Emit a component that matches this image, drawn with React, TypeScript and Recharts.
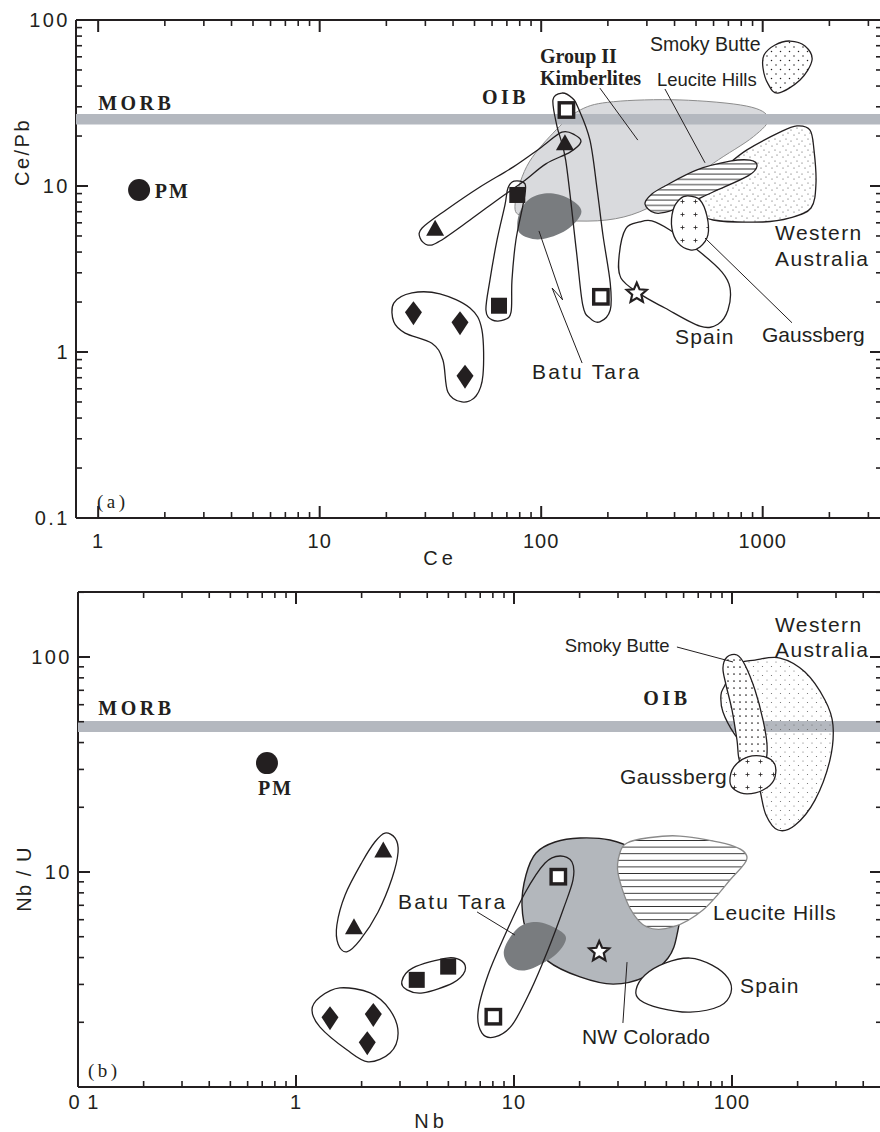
import React from 'react';
import { ScatterChart, Scatter, XAxis, YAxis } from 'recharts';

type XY = [number, number];
type Lbl = [string, number, number];
type Pt = { x: number; y: number };

const INK = '#231f20';
const BAND = '#b4b8bf';
const SANS = '"Liberation Sans", Arial, Helvetica, sans-serif';
const SERIF = '"Liberation Serif", "Times New Roman", Times, serif';
const CHART_W = 884;

// ===================== Panel (a): Ce vs Ce/Pb =====================
const ceDomain: XY = [0.7942, 3456];
const cePbDomain: XY = [0.1, 100];
const ceMajor = [1, 10, 100, 1000];
const ceTicks = [1, 2, 3, 4, 5, 6, 7, 8, 9, 10, 20, 30, 40, 50, 60, 70, 80, 90, 100, 200, 300, 400, 500, 600, 700, 800, 900, 1000, 2000, 3000];
const cePbMajor = [0.1, 1, 10, 100];
const cePbTicks = [0.1, 0.2, 0.3, 0.4, 0.5, 0.6, 0.7, 0.8, 0.9, 1, 2, 3, 4, 5, 6, 7, 8, 9, 10, 20, 30, 40, 50, 60, 70, 80, 90, 100];
const morbCePb = 25.2;

// samples
const pmA: XY[] = [[1.53, 9.46]];
const triA: XY[] = [[33.2, 5.56], [128, 18.2]];
const sqA: XY[] = [[78, 8.83], [64.5, 1.9]];
const openSqA: XY[] = [[130, 28.7], [186, 2.15]];
const diaA: XY[] = [[26.5, 1.71], [43, 1.49], [45.3, 0.71]];
const starA: XY[] = [[270, 2.26]];

// reference fields (Ce, Ce/Pb)
const oibA: XY[] = [[76.1, 7.5], [86, 13.1], [113, 20.8], [150, 28.7], [212, 32.2], [423, 33.0], [847, 30.3], [1060, 25.6], [907, 19.8], [598, 13.7], [395, 9.04], [279, 7.0], [198, 6.24], [130, 6.18], [86, 6.53]];
const batuA: XY[] = [[106, 9.04], [132, 8.47], [152, 7.0], [130, 5.43], [98.8, 4.77], [80.2, 5.19], [78.8, 6.53], [87.4, 8.24]];
const triEnvA: XY[] = [[124, 21.1], [142, 20.3], [151, 18.4], [135, 16.0], [105, 13.6], [82.8, 10.6], [65.2, 8.47], [47.7, 6.24], [34.9, 4.66], [30.8, 4.41], [28.4, 4.86], [29.0, 5.58], [37.2, 7.17], [52.9, 9.86], [74.6, 13.0], [98.8, 16.9]];
const sqEnvA: XY[] = [[75.4, 10.7], [84.5, 10.3], [83.6, 8.24], [76.9, 4.73], [73.8, 2.71], [73.1, 1.74], [67.9, 1.56], [60.0, 1.56], [56.3, 1.79], [58.7, 2.71], [63.2, 4.73], [68.6, 7.68], [70.8, 9.72]];
const openSqEnvA: XY[] = [[113, 33.0], [124, 36.3], [138, 33.9], [147, 29.5], [166, 18.9], [179, 9.46], [190, 5.07], [205, 2.6], [205, 1.79], [184, 1.52], [166, 1.6], [154, 1.92], [144, 4.12], [129, 14.3], [118, 22.7]];
const diaEnvA: XY[] = [[21.6, 1.97], [26.1, 2.27], [34.9, 2.24], [47.7, 1.84], [54.0, 1.36], [54.6, 0.727], [50.8, 0.543], [43.9, 0.5], [37.9, 0.574], [36.0, 0.895], [32.1, 1.13], [24.3, 1.3], [21.6, 1.52]];
const spainA: XY[] = [[279, 6.07], [241, 5.54], [225, 3.84], [229, 2.79], [279, 2.24], [362, 1.84], [521, 1.43], [628, 1.47], [697, 1.79], [712, 2.43], [655, 3.03], [521, 4.0], [381, 5.43], [316, 6.16]];
const leuciteA: XY[] = [[294, 7.79], [316, 8.95], [362, 10.0], [505, 12.5], [712, 14.1], [876, 14.3], [943, 13.2], [858, 11.5], [597, 9.2], [394, 7.17], [326, 6.88]];
const waA: XY[] = [[549, 10.1], [676, 13.0], [849, 16.5], [1197, 21.1], [1428, 23.0], [1635, 21.7], [1704, 16.5], [1740, 10.4], [1652, 7.37], [1328, 6.42], [1003, 6.07], [597, 6.24], [521, 7.17], [510, 8.47]];
const gaussA: XY[] = [[460, 8.71], [521, 8.24], [560, 6.6], [566, 5.07], [521, 4.29], [470, 4.12], [415, 4.54], [389, 5.58], [394, 7.17], [423, 8.35]];
const smokyA: XY[] = [[1014, 61.5], [1137, 70.7], [1328, 74.7], [1552, 69.7], [1670, 57.4], [1474, 43.5], [1172, 36.3], [1057, 41.2], [1003, 51.4]];

// leader lines
const groupIILeaderA: XY[] = [[184, 38.9], [273, 18.9]];
const leuciteLeaderA: XY[] = [[362, 38.4], [549, 13.8]];
const batuLeaderA: XY[] = [[97.7, 5.36], [125, 2.06], [112, 2.43], [153, 0.858]];
const gaussLeaderA: XY[] = [[549, 4.86], [1356, 1.5]];

const labelsA: Lbl[] = [
  ['MORB', 1.0, 28.7],
  ['OIB', 54.0, 31.4],
  ['Group II', 98.8, 55.1],
  ['Kimberlites', 98.8, 40.6],
  ['Smoky Butte', 310, 65.1],
  ['Leucite Hills', 333, 39.8],
  ['Western', 1137, 4.73],
  ['Australia', 1137, 3.31],
  ['Gaussberg', 993, 1.15],
  ['Spain', 402, 1.11],
  ['Batu Tara', 90.9, 0.685],
  ['PM', 1.8, 8.47],
  ['(a)', 0.988, 0.115],
];

// ===================== Panel (b): Nb vs Nb/U =====================
const nbDomain: XY = [0.1, 487.7];
const nbUDomain: XY = [1, 200.6];
const nbMajor = [0.1, 1, 10, 100];
const nbTicks = [0.1, 0.2, 0.3, 0.4, 0.5, 0.6, 0.7, 0.8, 0.9, 1, 2, 3, 4, 5, 6, 7, 8, 9, 10, 20, 30, 40, 50, 60, 70, 80, 90, 100, 200, 300, 400];
const nbUMajor = [1, 10, 100];
const nbUTicks = [1, 2, 3, 4, 5, 6, 7, 8, 9, 10, 20, 30, 40, 50, 60, 70, 80, 90, 100, 200];
const morbNbU = 47.5;

const pmB: XY[] = [[0.736, 32.1]];
const triB: XY[] = [[2.515, 12.66], [1.845, 5.57]];
const sqB: XY[] = [[3.58, 3.15], [4.99, 3.63]];
const openSqB: XY[] = [[15.97, 9.51], [8.04, 2.123]];
const diaB: XY[] = [[1.432, 2.087], [2.263, 2.162], [2.123, 1.597]];
const starB: XY[] = [[24.6, 4.26]];

const coloradoB: XY[] = [[12.62, 12.26], [15.42, 13.79], [20.09, 14.39], [27.57, 14.08], [35.9, 12.66], [46.7, 10.2], [57.7, 7.41], [55.9, 5.09], [50.9, 3.98], [39.9, 3.25], [28.5, 3.01], [20.09, 3.25], [14.32, 3.85], [11.59, 5.09], [10.88, 7.02], [11.35, 9.68]];
const batuB: XY[] = [[9.0, 4.34], [10.43, 5.49], [12.75, 5.85], [15.75, 5.43], [17.32, 4.88], [15.26, 4.07], [11.47, 3.5], [9.59, 3.65]];
const leuciteB: XY[] = [[33.0, 13.64], [40.7, 14.39], [57.7, 14.7], [97.9, 13.36], [117.2, 11.62], [97.9, 9.18], [73.6, 6.66], [53.6, 5.55], [40.7, 5.55], [34.0, 6.8], [30.0, 9.89], [30.6, 12.26]];
const spainB: XY[] = [[36.3, 2.83], [39.9, 3.32], [49.3, 3.77], [64.2, 3.98], [81.0, 3.69], [95.9, 3.21], [98.9, 2.74], [88.1, 2.38], [64.2, 2.23], [46.7, 2.33], [37.8, 2.54]];
const triEnvB: XY[] = [[2.56, 15.18], [2.85, 14.39], [2.94, 12.39], [2.76, 9.38], [2.38, 6.52], [1.97, 4.83], [1.71, 4.25], [1.56, 4.63], [1.54, 5.67], [1.68, 7.82], [2.01, 11.13], [2.3, 13.79]];
const sqEnvB: XY[] = [[3.06, 3.11], [3.44, 3.58], [4.93, 3.98], [5.77, 3.85], [5.96, 3.46], [5.25, 3.05], [3.82, 2.74], [3.23, 2.83]];
const diaEnvB: XY[] = [[1.184, 2.28], [1.289, 2.62], [1.59, 2.89], [2.19, 2.74], [2.7, 2.28], [2.94, 1.78], [2.7, 1.44], [2.14, 1.31], [1.71, 1.49], [1.289, 1.9]];
const openSqEnvB: XY[] = [[16.26, 11.87], [18.45, 11.13], [18.65, 9.18], [16.78, 6.66], [14.32, 4.34], [11.84, 2.77], [9.79, 1.94], [8.18, 1.71], [7.13, 1.78], [6.84, 2.23], [7.6, 3.32], [9.09, 5.09], [11.23, 7.99], [13.88, 11.01]];
const waB: XY[] = [[92.9, 74.1], [103.2, 91.8], [127.5, 96.8], [166.1, 98.9], [216.2, 85.1], [267, 63.1], [290.5, 48.3], [281.5, 33.2], [240.3, 21.6], [194.5, 16.5], [162.6, 15.68], [143.2, 18.41], [134.4, 24.06], [127.5, 29.8], [114.7, 38.96], [103.2, 43.4], [90.9, 55.5], [89.0, 66.6]];
const smokyB: XY[] = [[94.9, 100], [105.4, 102.2], [114.7, 91.8], [127.5, 70.2], [138.8, 50.9], [144.8, 38.96], [141.7, 32.5], [123.5, 30.5], [108.8, 32.5], [105.4, 41.1], [100, 56.7], [93.9, 74.1], [90.9, 88.9]];
const gaussB: XY[] = [[97.9, 26.2], [102.1, 30.8], [118.4, 34.3], [141.7, 34.3], [157.5, 31.5], [155.8, 26.8], [138.8, 24.06], [117.2, 23.1], [103.2, 24.06]];

const smokyLeaderB: XY[] = [[55.9, 111.3], [101.1, 94.8]];
const batuLeaderB: XY[] = [[6.77, 6.52], [10.1, 5.09]];
const coloradoLeaderB: XY[] = [[31.6, 1.985], [33.0, 3.81]];

const labelsB: Lbl[] = [
  ['MORB', 0.124, 53.7],
  ['OIB', 39.2, 59.8],
  ['PM', 0.669, 22.8],
  ['Smoky Butte', 17.1, 105.5],
  ['Western', 157.5, 130.7],
  ['Australia', 157.5, 100],
  ['Gaussberg', 30.6, 25.7],
  ['Batu Tara', 2.94, 6.73],
  ['Leucite Hills', 81.8, 5.98],
  ['Spain', 108.8, 2.74],
  ['NW Colorado', 20.5, 1.585],
  ['(b)', 0.111, 1.113],
];

// ===================== text styles =====================
const serifBold = (fontSize: number, letterSpacing: number): React.CSSProperties => ({ fontFamily: SERIF, fontWeight: 700, fontSize, letterSpacing });
const serif = (fontSize: number, letterSpacing: number): React.CSSProperties => ({ fontFamily: SERIF, fontSize, letterSpacing });
const sans = (fontSize: number, letterSpacing: number): React.CSSProperties => ({ fontFamily: SANS, fontSize, letterSpacing });

const baseStyles: Record<string, React.CSSProperties> = {
  MORB: serifBold(20, 3.5),
  OIB: serifBold(20, 3.5),
  PM: serifBold(20, 2),
  'Group II': serifBold(20, 0),
  Kimberlites: serifBold(20, 0),
  '(a)': serif(19, 3.5),
  '(b)': serif(19, 3.5),
  'Smoky Butte': sans(19.5, 0),
  'Leucite Hills': sans(18.5, 0),
  Western: sans(21, 1.4),
  Australia: sans(21, 1.4),
  Gaussberg: sans(21, 0),
  Spain: sans(21, 1.2),
  'Batu Tara': sans(21, 2.2),
  'NW Colorado': sans(21, 0.2),
};
const stylesA = baseStyles;
const stylesB: Record<string, React.CSSProperties> = {
  ...baseStyles,
  'Smoky Butte': sans(18.5, 0),
  Gaussberg: sans(21, 0.5),
  'Leucite Hills': sans(21, 0.8),
};

// ===================== drawing helpers =====================
const toPts = (a: XY[]) => a.map(([x, y]) => ({ x, y }));

function closedPath(p: Pt[]): string {
  const n = p.length;
  let d = `M${p[0].x},${p[0].y}`;
  for (let i = 0; i < n; i++) {
    const p0 = p[(i - 1 + n) % n];
    const p1 = p[i];
    const p2 = p[(i + 1) % n];
    const p3 = p[(i + 2) % n];
    const c1x = p1.x + (p2.x - p0.x) / 6;
    const c1y = p1.y + (p2.y - p0.y) / 6;
    const c2x = p2.x - (p3.x - p1.x) / 6;
    const c2y = p2.y - (p3.y - p1.y) / 6;
    d += ` C${c1x},${c1y} ${c2x},${c2y} ${p2.x},${p2.y}`;
  }
  return d + ' Z';
}

const openPath = (p: Pt[]) => p.map((q, i) => `${i ? 'L' : 'M'}${q.x},${q.y}`).join(' ');

type FieldStyle = {
  fill?: string;
  stroke?: string;
  strokeWidth?: number;
  patternId?: string;
  pattern?: React.ReactNode;
};

const fieldLine = (s: FieldStyle) => (props: any) => {
  const p = props.points as Pt[] | undefined;
  if (!p || p.length < 3) return <g />;
  const d = closedPath(p);
  return (
    <g>
      {s.pattern ? <defs>{s.pattern}</defs> : null}
      {s.fill ? <path d={d} fill={s.fill} stroke="none" /> : null}
      {s.patternId ? <path d={d} fill={`url(#${s.patternId})`} stroke="none" /> : null}
      {s.stroke ? <path d={d} fill="none" stroke={s.stroke} strokeWidth={s.strokeWidth ?? 1.3} /> : null}
    </g>
  );
};

const noDot = () => <g />;

const field = (key: string, data: XY[], s: FieldStyle) => (
  <Scatter key={key} data={toPts(data)} line={fieldLine(s)} shape={noDot} isAnimationActive={false} />
);

const polyline = (key: string, data: XY[], stroke: string, width: number) => (
  <Scatter
    key={key}
    data={toPts(data)}
    line={(props: any) => <path d={openPath(props.points || [])} fill="none" stroke={stroke} strokeWidth={width} />}
    shape={noDot}
    isAnimationActive={false}
  />
);

const dotPattern = (id: string, w: number, h: number, dots: XY[], r: number, color: string) => (
  <pattern id={id} width={w} height={h} patternUnits="userSpaceOnUse">
    {dots.map(([x, y], i) => (
      <circle key={i} cx={x} cy={y} r={r} fill={color} />
    ))}
  </pattern>
);

const crossPattern = (id: string, size: number, arm: number) => (
  <pattern id={id} width={size} height={size} patternUnits="userSpaceOnUse">
    <path
      d={`M${size / 2 - arm},${size / 2}H${size / 2 + arm}M${size / 2},${size / 2 - arm}V${size / 2 + arm}`}
      stroke={INK}
      strokeWidth={0.8}
    />
  </pattern>
);

const hatchPattern = (id: string, gap: number, color: string) => (
  <pattern id={id} width={8} height={gap} patternUnits="userSpaceOnUse">
    <line x1={0} y1={gap / 2} x2={8} y2={gap / 2} stroke={color} strokeWidth={1} />
  </pattern>
);

// markers
const triShape = (p: any) => (
  <polygon points={`${p.cx},${p.cy - 8.5} ${p.cx + 9},${p.cy + 7.5} ${p.cx - 9},${p.cy + 7.5}`} fill={INK} />
);
const sqShape = (p: any) => <rect x={p.cx - 8} y={p.cy - 8} width={16} height={16} fill={INK} />;
const openSqShape = (p: any) => (
  <rect x={p.cx - 7.2} y={p.cy - 7.2} width={14.4} height={14.4} fill="#fff" stroke={INK} strokeWidth={3.4} />
);
const diaShape = (p: any) => (
  <polygon points={`${p.cx},${p.cy - 12} ${p.cx + 8.5},${p.cy - 1} ${p.cx},${p.cy + 12} ${p.cx - 8.5},${p.cy - 1}`} fill={INK} />
);
const starShape = (p: any) => {
  const R = 10.5;
  const r = 4.8;
  const pts: string[] = [];
  for (let k = 0; k < 10; k++) {
    const a = (-90 + k * 36) * (Math.PI / 180);
    const rr = k % 2 === 0 ? R : r;
    pts.push(`${p.cx + rr * Math.cos(a)},${p.cy + rr * Math.sin(a)}`);
  }
  return <polygon points={pts.join(' ')} fill="#fff" stroke={INK} strokeWidth={2.2} strokeLinejoin="miter" />;
};
const pmShape = (p: any) => <circle cx={p.cx} cy={p.cy} r={11} fill={INK} />;

const markers = (key: string, data: XY[], shape: (p: any) => React.ReactElement) => (
  <Scatter key={key} data={toPts(data)} shape={shape} isAnimationActive={false} />
);

const labelLayer = (key: string, data: Lbl[], styles: Record<string, React.CSSProperties>) => (
  <Scatter
    key={key}
    data={data.map(([text, x, y]) => ({ text, x, y }))}
    shape={(p: any) => {
      const t: string = (p.payload && p.payload.text) || p.text;
      return (
        <text x={p.cx} y={p.cy} fill={INK} style={styles[t]}>
          {t}
        </text>
      );
    }}
    isAnimationActive={false}
  />
);

// axis ticks drawn inside the frame; numbers only on the bottom and left
type Side = 'bottom' | 'top' | 'left' | 'right';
const tickFn = (side: Side, majors: number[], labelDy = 0, names: Record<string, string> = {}, shifts: Record<string, number> = {}) => (props: any) => {
  const { x, y, payload } = props;
  const v: number = payload.value;
  const major = majors.includes(v);
  const len = major ? 12 : 6;
  let x2 = x;
  let y2 = y;
  if (side === 'bottom') y2 = y - len;
  if (side === 'top') y2 = y + len;
  if (side === 'left') x2 = x + len;
  if (side === 'right') x2 = x - len;
  const key = String(v);
  const text = major ? names[key] ?? key : null;
  const tickStyle: React.CSSProperties = { fontFamily: SANS, fontSize: 20 };
  return (
    <g>
      <line x1={x} y1={y} x2={x2} y2={y2} stroke={INK} strokeWidth={major ? 2 : 1.6} />
      {text && side === 'bottom' ? (
        <text x={x + (shifts[key] ?? 0)} y={y + labelDy} textAnchor="middle" fill={INK} style={{ ...tickStyle, letterSpacing: 1 }}>
          {text}
        </text>
      ) : null}
      {text && side === 'left' ? (
        <text x={x - 6} y={y + 7} textAnchor="end" fill={INK} style={{ ...tickStyle, letterSpacing: 2.5 }}>
          {text}
        </text>
      ) : null}
    </g>
  );
};

const titleStyle: React.CSSProperties = { fontFamily: SANS, fontSize: 20 };
const titleX = (text: string, dx: number, dy: number, ls: number) => (p: any) => {
  const vb = p.viewBox || { x: 0, y: 0 };
  return (
    <text x={vb.x + dx} y={vb.y + dy} textAnchor="middle" fill={INK} style={{ ...titleStyle, letterSpacing: ls }}>
      {text}
    </text>
  );
};
const titleY = (text: string, dx: number, dy: number, ls: number) => (p: any) => {
  const vb = p.viewBox || { x: 0, y: 0 };
  const x = vb.x + dx;
  const y = vb.y + dy;
  return (
    <text x={x} y={y} transform={`rotate(-90 ${x} ${y})`} textAnchor="middle" fill={INK} style={{ ...titleStyle, letterSpacing: ls }}>
      {text}
    </text>
  );
};

const AXIS_LINE = { stroke: INK, strokeWidth: 2 };

// axes are 1px thick so the frame lines sit exactly on the plot edges
const axisCommon = {
  type: 'number' as const,
  scale: 'log' as const,
  allowDataOverflow: true,
  interval: 0 as const,
  tickSize: 0,
  tickMargin: 0,
  tickLine: false,
  axisLine: AXIS_LINE,
};

function PanelA() {
  return (
    <ScatterChart width={CHART_W} height={580} margin={{ top: 19, right: 1, bottom: 61, left: 75 }}>
      <XAxis {...axisCommon} dataKey="x" domain={ceDomain} ticks={ceTicks} height={1} tick={tickFn('bottom', ceMajor, 30)} label={{ content: titleX('Ce', 364, 47, 4) }} />
      <XAxis {...axisCommon} xAxisId="top" orientation="top" dataKey="x" domain={ceDomain} ticks={ceTicks} height={1} tick={tickFn('top', ceMajor)} />
      <YAxis {...axisCommon} dataKey="y" domain={cePbDomain} ticks={cePbTicks} width={1} tick={tickFn('left', cePbMajor)} label={{ content: titleY('Ce/Pb', -46, 132, 2.5) }} />
      <YAxis {...axisCommon} yAxisId="right" orientation="right" dataKey="y" domain={cePbDomain} ticks={cePbTicks} width={1} tick={tickFn('right', cePbMajor)} />

      {field('oibA', oibA, { fill: '#d9dadd', stroke: '#8c8c8c', strokeWidth: 1 })}
      {polyline('morbA', [[ceDomain[0], morbCePb], [ceDomain[1], morbCePb]], BAND, 10.5)}
      {field('batuA', batuA, { fill: '#797c7f' })}
      {field('waA', waA, {
        fill: '#fff',
        stroke: INK,
        patternId: 'dotsWA-a',
        pattern: dotPattern('dotsWA-a', 11, 11, [[2, 3], [7, 1], [5, 7], [10, 9]], 0.55, '#444'),
      })}
      {field('leuciteA', leuciteA, { fill: '#fff', stroke: INK, patternId: 'hatch-a', pattern: hatchPattern('hatch-a', 5.2, '#333') })}
      {field('spainA', spainA, { fill: '#fff', stroke: INK })}
      {field('gaussA', gaussA, { fill: '#fff', stroke: INK, patternId: 'cross-a', pattern: crossPattern('cross-a', 13, 2) })}
      {field('smokyA', smokyA, {
        fill: '#fff',
        stroke: INK,
        patternId: 'dotsSB-a',
        pattern: dotPattern('dotsSB-a', 9, 9, [[2, 2], [6.5, 6.5]], 0.75, INK),
      })}
      {field('triEnvA', triEnvA, { stroke: INK })}
      {field('sqEnvA', sqEnvA, { stroke: INK })}
      {field('openSqEnvA', openSqEnvA, { stroke: INK })}
      {field('diaEnvA', diaEnvA, { stroke: INK })}

      {polyline('groupIILeaderA', groupIILeaderA, INK, 1)}
      {polyline('leuciteLeaderA', leuciteLeaderA, INK, 1)}
      {polyline('batuLeaderA', batuLeaderA, INK, 1)}
      {polyline('gaussLeaderA', gaussLeaderA, INK, 1)}

      {markers('pmA', pmA, pmShape)}
      {markers('triA', triA, triShape)}
      {markers('sqA', sqA, sqShape)}
      {markers('openSqA', openSqA, openSqShape)}
      {markers('diaA', diaA, diaShape)}
      {markers('starA', starA, starShape)}

      {labelLayer('labelsA', labelsA, stylesA)}
    </ScatterChart>
  );
}

function PanelB() {
  return (
    <ScatterChart width={CHART_W} height={572} margin={{ top: 31, right: 1, bottom: 44, left: 77 }}>
      <XAxis {...axisCommon} dataKey="x" domain={nbDomain} ticks={nbTicks} height={1} tick={tickFn('bottom', nbMajor, 21.5, { '0.1': '0 1' }, { '0.1': 6 })} label={{ content: titleX('Nb', 353, 41, 4) }} />
      <XAxis {...axisCommon} xAxisId="top" orientation="top" dataKey="x" domain={nbDomain} ticks={nbTicks} height={1} tick={tickFn('top', nbMajor)} />
      <YAxis {...axisCommon} dataKey="y" domain={nbUDomain} ticks={nbUTicks} width={1} tick={tickFn('left', nbUMajor, 0, { '1': '' })} label={{ content: titleY('Nb / U', -46, 287, 1.5) }} />
      <YAxis {...axisCommon} yAxisId="right" orientation="right" dataKey="y" domain={nbUDomain} ticks={nbUTicks} width={1} tick={tickFn('right', nbUMajor)} />

      {polyline('morbB', [[nbDomain[0], morbNbU], [nbDomain[1], morbNbU]], BAND, 11)}
      {field('waB', waB, {
        stroke: INK,
        patternId: 'dotsWA-b',
        pattern: dotPattern('dotsWA-b', 9, 9, [[2, 3], [6.5, 7.5]], 0.6, '#666'),
      })}
      {field('smokyB', smokyB, {
        fill: '#fff',
        stroke: INK,
        patternId: 'dotsSB-b',
        pattern: dotPattern('dotsSB-b', 6, 7, [[2, 2]], 0.85, INK),
      })}
      {field('gaussB', gaussB, { fill: '#fff', stroke: INK, patternId: 'cross-b', pattern: crossPattern('cross-b', 13, 2) })}
      {field('coloradoB', coloradoB, { fill: '#b3b7bc', stroke: INK, strokeWidth: 1.4 })}
      {field('leuciteB', leuciteB, { fill: '#fff', stroke: '#8a8a8a', patternId: 'hatch-b', pattern: hatchPattern('hatch-b', 6.6, '#333') })}
      {field('batuB', batuB, { fill: '#797c7f' })}
      {field('spainB', spainB, { fill: '#fff', stroke: INK })}
      {field('triEnvB', triEnvB, { stroke: INK })}
      {field('sqEnvB', sqEnvB, { stroke: INK })}
      {field('diaEnvB', diaEnvB, { stroke: INK })}
      {field('openSqEnvB', openSqEnvB, { stroke: INK })}

      {polyline('smokyLeaderB', smokyLeaderB, INK, 1)}
      {polyline('batuLeaderB', batuLeaderB, INK, 1)}
      {polyline('coloradoLeaderB', coloradoLeaderB, INK, 1)}

      {markers('pmB', pmB, pmShape)}
      {markers('triB', triB, triShape)}
      {markers('sqB', sqB, sqShape)}
      {markers('openSqB', openSqB, openSqShape)}
      {markers('diaB', diaB, diaShape)}
      {markers('starB', starB, starShape)}

      {labelLayer('labelsB', labelsB, stylesB)}
    </ScatterChart>
  );
}

export default function App() {
  return (
    <div style={{ position: 'absolute', left: 0, top: 0, width: 880, height: 1132, overflow: 'hidden', background: '#fff' }}>
      <div style={{ position: 'absolute', left: 0, top: 0 }}>
        <PanelA />
      </div>
      <div style={{ position: 'absolute', left: 0, top: 560 }}>
        <PanelB />
      </div>
    </div>
  );
}
